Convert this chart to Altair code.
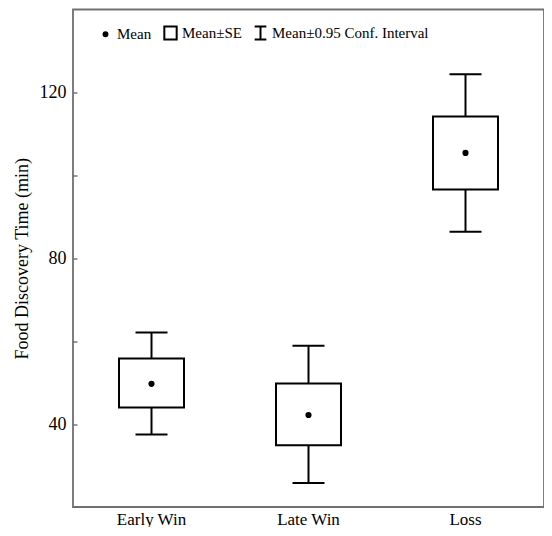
import altair as alt
import pandas as pd

SERIF = "Liberation Serif"

groups = ["Early Win", "Late Win", "Loss"]
means = [49.7, 42.2, 105.4]
se_lo = [44.0, 34.9, 96.6]
se_hi = [55.8, 49.8, 114.2]
ci_lo = [37.5, 25.8, 86.4]
ci_hi = [62.1, 58.9, 124.4]

legend_items = ["Mean", "Mean±SE", "Mean±0.95 Conf. Interval"]
legend_shapes = [
    "M-0.3,0A0.3,0.3 0 1,0 0.3,0A0.3,0.3 0 1,0 -0.3,0Z",
    "M-0.95,-1H0.95V1H-0.95Z",
    "M-0.9,-1H0.9M0,-1V1M-0.9,1H0.9",
]
legend_fills = ["black", "transparent", "transparent"]
legend_strokes = ["black", "black", "black"]

df = pd.DataFrame({
    "group": groups, "mean": means, "se_lo": se_lo, "se_hi": se_hi,
    "ci_lo": ci_lo, "ci_hi": ci_hi,
})
legend_df = pd.DataFrame({"item": legend_items})

x = alt.X(
    "group:N", sort=groups,
    scale=alt.Scale(domain=groups, paddingInner=0, paddingOuter=0),
    axis=alt.Axis(title=None, labelAngle=0, ticks=False, domain=False,
                  labelPadding=4, labelFontSize=17, labelFont=SERIF,
                  labelColor="black"),
)
yscale = alt.Scale(domain=[20, 140], nice=False, zero=False)
yaxis = alt.Axis(
    title="Food Discovery Time (min)", values=[40, 60, 80, 100, 120],
    labelExpr="datum.value % 40 == 0 ? datum.label : ''",
    grid=False, domain=False, tickSize=4, offset=-4, tickColor="#555",
    tickWidth=1.2, labelPadding=7, labelFont=SERIF, labelFontSize=18,
    labelColor="black", titleFont=SERIF, titleFontSize=18,
    titleFontWeight="normal", titleColor="black", titlePadding=8,
)

base = alt.Chart(df)

whisker = base.mark_rule(color="black", strokeWidth=2).encode(
    x=x, y=alt.Y("ci_lo:Q", scale=yscale, axis=yaxis), y2="ci_hi:Q")
box = base.mark_bar(size=65, fill="white", stroke="black", strokeWidth=2).encode(
    x=x, y=alt.Y("se_lo:Q", scale=yscale), y2="se_hi:Q")
cap_lo = base.mark_tick(size=32, thickness=2, color="black", opacity=1).encode(
    x=x, y=alt.Y("ci_lo:Q", scale=yscale))
cap_hi = base.mark_tick(size=32, thickness=2, color="black", opacity=1).encode(
    x=x, y=alt.Y("ci_hi:Q", scale=yscale))
mean_pt = base.mark_circle(size=38, color="black", opacity=1).encode(
    x=x, y=alt.Y("mean:Q", scale=yscale))

leg = alt.Legend(
    title=None, orient="none", legendX=25, legendY=16, direction="horizontal",
    symbolSize=169, symbolStrokeColor="black", symbolStrokeWidth=2,
    symbolOpacity=1, labelFont=SERIF, labelFontSize=15, labelColor="black",
    labelLimit=0, columnPadding=8, labelOffset=4, padding=0,
)
legend_layer = alt.Chart(legend_df).mark_point(
    opacity=0, color="black", filled=False).encode(
    shape=alt.Shape("item:N", scale=alt.Scale(domain=legend_items, range=legend_shapes), legend=leg),
    fill=alt.Fill("item:N", scale=alt.Scale(domain=legend_items, range=legend_fills), legend=leg),
    stroke=alt.Stroke("item:N", scale=alt.Scale(domain=legend_items, range=legend_strokes), legend=leg),
)

chart = alt.layer(whisker, box, cap_lo, cap_hi, mean_pt, legend_layer).properties(
    width=536, height=519,
    autosize=alt.AutoSizeParams(type="fit", contains="padding"),
    padding={"left": 5, "top": 1.5, "right": 0, "bottom": 0},
    background="white",
).configure_view(stroke="#707070", strokeWidth=1.8)

chart.save("out.html", embed_options={"renderer": "svg", "actions": False})
